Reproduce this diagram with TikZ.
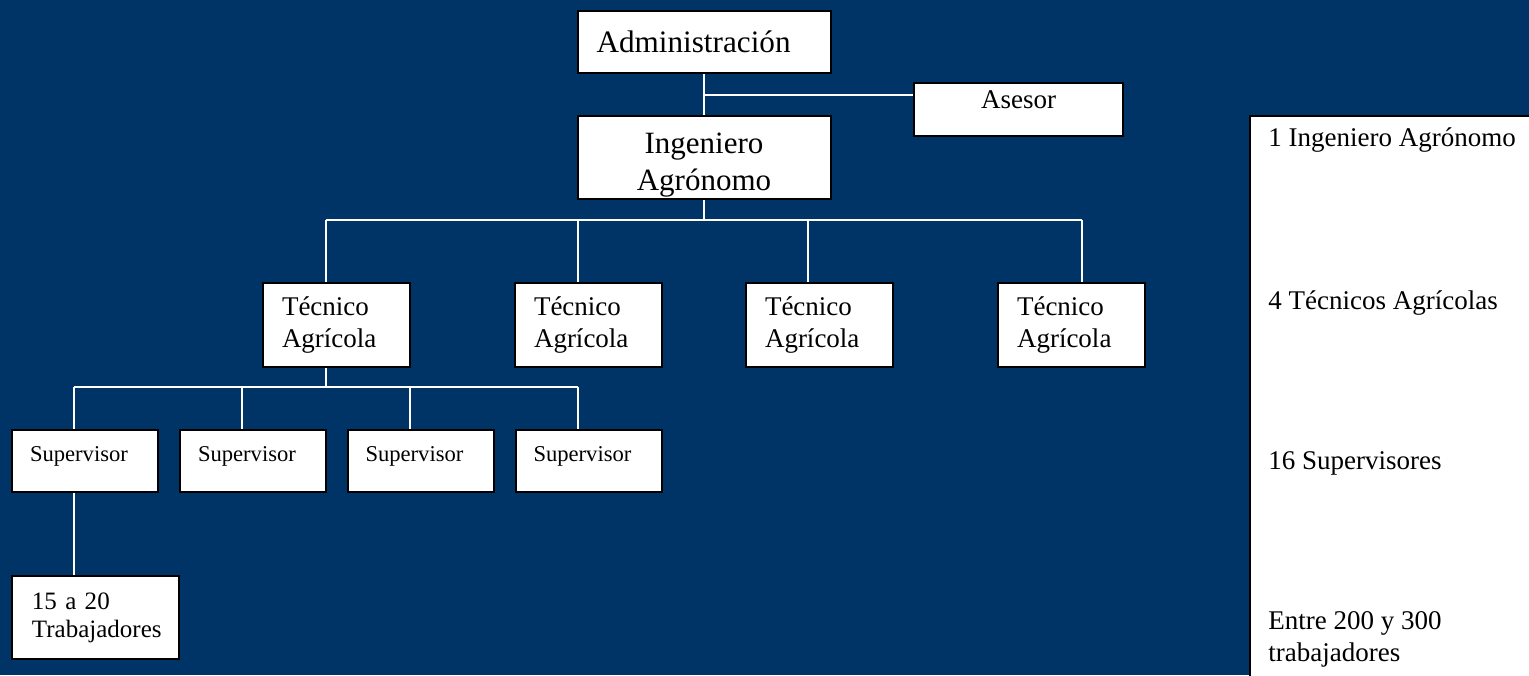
\documentclass[tikz,border=0pt]{standalone}
\usepackage{fontspec}
\setmainfont{Liberation Serif}
\usepackage{tikz}
\usetikzlibrary{positioning,calc}
\pgfdeclarelayer{bg}
\pgfsetlayers{bg,main}
\definecolor{fondo}{RGB}{0,51,102}

\begin{document}
\begin{tikzpicture}[x=0.5pt,y=-0.5pt,
    caja/.style={draw=black,line width=1pt,fill=white,inner sep=0pt},
    tecnico/.style={caja,text width=54.5pt,inner xsep=9.5pt,minimum height=42pt,align=left,font=\fontsize{13.5}{16}\selectfont},
    superv/.style={caja,text width=55pt,inner xsep=9pt,minimum height=31pt,align=left,text height=8pt,text depth=8pt,font=\fontsize{11.3}{13.5}\selectfont},
    nota/.style={anchor=west,inner sep=0pt,align=left,font=\fontsize{13.5}{16}\selectfont},
    linea/.style={white,line width=0.75pt}]

    \useasboundingbox (0,0) rectangle (1529,675);
    \clip (0,0) rectangle (1529,675);

    \node [caja,text width=107.5pt,inner xsep=9.5pt,minimum height=31pt,align=left,font=\fontsize{15.6}{18}\selectfont] (adm) at (704,42) {Administración};
    \node [caja,minimum width=104.5pt,minimum height=26.5pt,text height=9pt,text depth=10pt,font=\fontsize{13.5}{16}\selectfont] (ases) at (1018.5,109.5) {Asesor};
    \node [caja,minimum width=126.5pt,minimum height=41.5pt,align=center,text height=36pt,text depth=3.5pt,font=\fontsize{15.5}{18.5}\selectfont] (ing) at (704,157.5) {Ingeniero\\Agrónomo};

    \node [tecnico] (tec1) at (336.5,325) {Técnico\\Agrícola};
    \node [tecnico] (tec2) at (588.5,325) {Técnico\\Agrícola};
    \node [tecnico] (tec3) at (819.5,325) {Técnico\\Agrícola};
    \node [tecnico] (tec4) at (1071.5,325) {Técnico\\Agrícola};

    \node [superv] (sup1) at (85,461) {Supervisor};
    \node [superv] (sup2) at (253,461) {Supervisor};
    \node [superv] (sup3) at (420.5,461) {Supervisor};
    \node [superv] (sup4) at (588.5,461) {Supervisor};

    \node [caja,text width=63.5pt,inner xsep=10pt,minimum height=41.5pt,align=left,font=\fontsize{12.5}{14}\selectfont] (trab) at (95.5,617.5) {15 a 20\\Trabajadores};

    % cuadro de totales
    \node [caja,anchor=north west,minimum width=150pt,minimum height=290pt] (resumen) at (1249,115) {};
    \node [nota] (n1) at (1268,140) {1 Ingeniero Agrónomo};
    \node [nota] (n2) at (1268,303) {4 Técnicos Agrícolas};
    \node [nota] (n3) at (1268,463) {16 Supervisores};
    \node [nota] (n4) at (1268,639) {Entre 200 y 300\\trabajadores};

    \begin{pgfonlayer}{bg}    % fondo y lineas
        \fill[fondo] (0,0) rectangle (1529,675);
        \draw[linea] (adm.south) -- (ing.north);
        \coordinate (asj) at (704,95);
        \draw[linea] (asj) -- (asj -| ases.west);

        \coordinate (bt) at (704,220);
        \coordinate (bt1) at (326,220);
        \coordinate (bt2) at (578,220);
        \coordinate (bt3) at (808,220);
        \coordinate (bt4) at (1082,220);
        \draw[linea] (ing.south) -- (bt);
        \draw[linea] (bt1) -- (bt4);
        \draw[linea] (bt1) -- (bt1 |- tec1.north);
        \draw[linea] (bt2) -- (bt2 |- tec2.north);
        \draw[linea] (bt3) -- (bt3 |- tec3.north);
        \draw[linea] (bt4) -- (bt4 |- tec4.north);

        \coordinate (bs) at (326,387);
        \coordinate (bs1) at (74,387);
        \coordinate (bs2) at (242,387);
        \coordinate (bs3) at (410,387);
        \coordinate (bs4) at (578,387);
        \draw[linea] (bs |- tec1.south) -- (bs);
        \draw[linea] (bs1) -- (bs4);
        \draw[linea] (bs1) -- (bs1 |- sup1.north);
        \draw[linea] (bs2) -- (bs2 |- sup2.north);
        \draw[linea] (bs3) -- (bs3 |- sup3.north);
        \draw[linea] (bs4) -- (bs4 |- sup4.north);
        \draw[linea] (bs1 |- sup1.south) -- (bs1 |- trab.north);
    \end{pgfonlayer}
\end{tikzpicture}
\end{document}
